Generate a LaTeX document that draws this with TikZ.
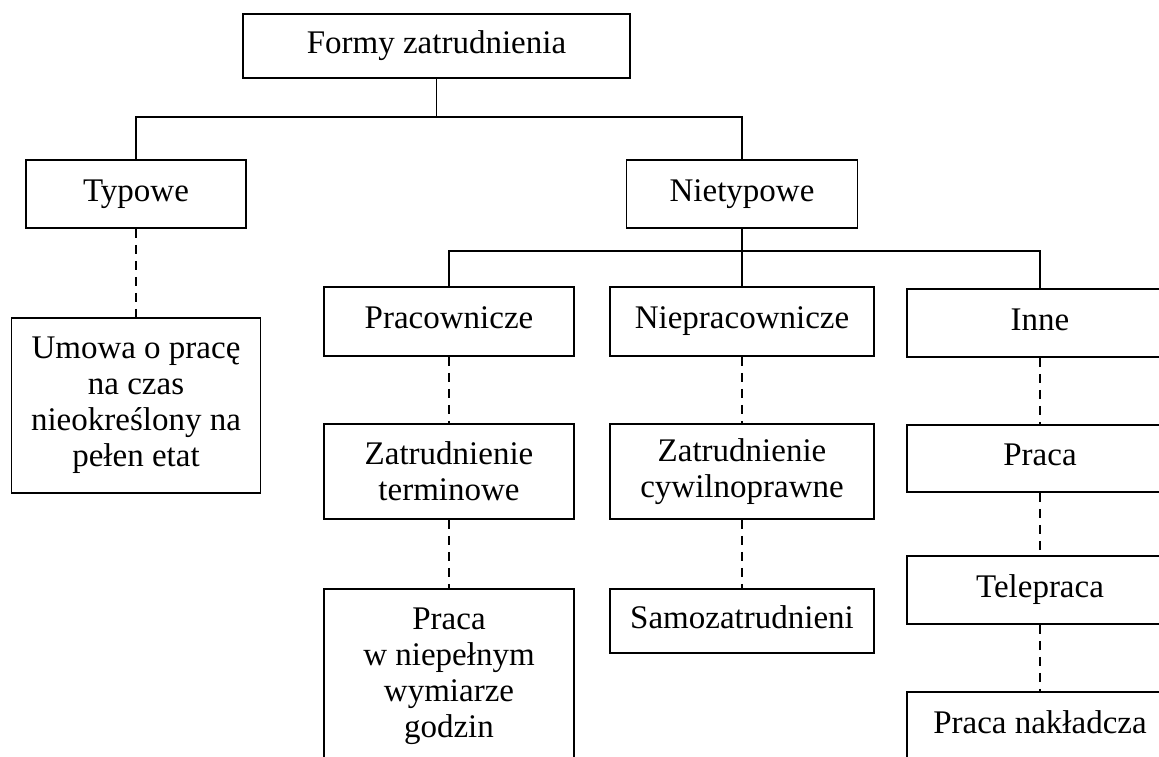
\documentclass[tikz,border=0pt]{standalone}
\usepackage{fontspec}
\setmainfont{Liberation Serif}
\begin{document}
\begin{tikzpicture}[x=1pt,y=-1pt,
  box/.style={draw,line width=1.8pt,inner sep=0pt,align=center,
    font=\fontsize{33}{36}\selectfont,minimum width=#1},
  single/.style={text height=22pt,text depth=8pt},
  solidline/.style={line width=1.8pt},
  dashline/.style={line width=1.8pt,dash pattern=on 9pt off 7pt}]
\useasboundingbox (0,0) rectangle (1159,756);
\node[box=387pt,single,minimum height=64pt] (root) at (436.5,46) {Formy zatrudnienia};
\node[box=220pt,single,minimum height=68pt] (typ) at (136,194) {Typowe};
\node[box=231pt,single,minimum height=68pt] (nietyp) at (742,194) {Nietypowe};
\node[box=249pt,minimum height=175pt] (umowa) at (136,405.5) {Umowa o pracę\\na czas\\nieokreślony na\\pełen etat};
\node[box=250pt,single,minimum height=69pt] (prac) at (449,321.5) {Pracownicze};
\node[box=264pt,single,minimum height=69pt] (niep) at (742,321.5) {Niepracownicze};
\node[box=266pt,single,minimum height=68pt] (inne) at (1040,323) {Inne};
\node[box=250pt,minimum height=95pt] (zt) at (449,471.5) {Zatrudnienie\\terminowe};
\node[box=264pt,minimum height=95pt] (zc) at (742,471.5) {Zatrudnienie\\cywilnoprawne};
\node[box=266pt,single,minimum height=67pt] (praca) at (1040,458.5) {Praca};
\node[box=250pt,minimum height=175pt] (pw) at (449,676.5) {Praca\\w niepełnym\\wymiarze\\godzin};
\node[box=264pt,single,minimum height=64pt] (samo) at (742,621) {Samozatrudnieni};
\node[box=266pt,single,minimum height=68pt] (tele) at (1040,590) {Telepraca};
\node[box=266pt,single,minimum height=68pt] (nakl) at (1040,726) {Praca nakładcza};
\coordinate (j1) at (436.5,117);
\coordinate (j2) at (742,251);
\draw[solidline] (root) -- (j1);
\draw[solidline] (typ) |- (j1) -| (nietyp);
\draw[solidline] (nietyp) -- (j2);
\draw[solidline] (prac) |- (j2) -| (inne);
\draw[solidline] (j2) -- (niep);
\draw[dashline] (typ) -- (umowa);
\draw[dashline] (prac) -- (zt);
\draw[dashline] (zt) -- (pw);
\draw[dashline] (niep) -- (zc);
\draw[dashline] (zc) -- (samo);
\draw[dashline] (inne) -- (praca);
\draw[dashline] (praca) -- (tele);
\draw[dashline] (tele) -- (nakl);
\end{tikzpicture}
\end{document}
